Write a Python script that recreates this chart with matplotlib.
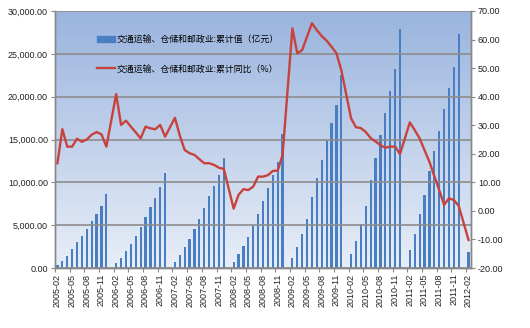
import numpy as np
import matplotlib.pyplot as plt
from matplotlib.patches import Patch
from matplotlib.lines import Line2D
from matplotlib.colors import LinearSegmentedColormap
from matplotlib.ticker import FuncFormatter, FixedLocator

# 累计值（亿元），每年 2-12 月（1 月无数据）
value_2005 = [350, 820, 1440, 2180, 3000, 3740, 4590, 5490, 6340, 7240, 8640]
value_2006 = [550, 1200, 1950, 2800, 3740, 4750, 5920, 7160, 8210, 9420, 11120]
value_2007 = [740, 1480, 2420, 3350, 4550, 5680, 7040, 8370, 9570, 10850, 12870]
value_2008 = [740, 1630, 2530, 3580, 4940, 6270, 7820, 9300, 10820, 12340, 15640]
value_2009 = [1200, 2490, 4000, 5750, 8250, 10470, 12600, 14820, 16890, 19020, 22520]
value_2010 = [1630, 3150, 5100, 7240, 10270, 12870, 15520, 18050, 20690, 23220, 27850]
value_2011 = [2100, 4000, 6270, 8520, 11280, 13650, 16020, 18550, 20970, 23490, 27270]
value_2012 = [1830]

# 累计同比（%）
yoy_2005 = [16.7, 28.6, 22.5, 22.5, 25.3, 24.2, 25.0, 26.7, 27.6, 26.8, 22.5]
yoy_2006 = [40.9, 30.1, 31.6, 29.5, 27.5, 25.4, 29.5, 28.9, 28.6, 30.1, 26.0]
yoy_2007 = [32.6, 26.4, 21.3, 20.2, 19.6, 18.1, 16.7, 16.7, 16.1, 15.1, 14.7]
yoy_2008 = [0.8, 5.6, 7.6, 7.3, 8.5, 12.0, 12.0, 12.5, 14.0, 14.1, 19.6]
yoy_2009 = [63.9, 55.2, 56.3, 61.0, 65.7, 63.3, 61.2, 59.6, 57.5, 55.2, 49.3]
yoy_2010 = [32.4, 29.3, 29.0, 27.6, 25.5, 24.3, 23.0, 22.1, 22.5, 22.5, 19.9]
yoy_2011 = [31.0, 28.3, 25.4, 21.3, 17.2, 12.2, 7.3, 2.1, 4.4, 3.8, 1.7]
yoy_2012 = [-10.2]

label_bar = "交通运输、仓储和邮政业:累计值（亿元）"
label_line = "交通运输、仓储和邮政业:累计同比（%）"

months = [f"{y}-{m:02d}" for y in range(2005, 2013) for m in range(1, 13)][1:86]


def join_years(parts):
    out = list(parts[0])
    for p in parts[1:]:
        out += [np.nan] + list(p)  # January gap
    return np.array(out, dtype=float)


values = join_years([value_2005, value_2006, value_2007, value_2008,
                     value_2009, value_2010, value_2011, value_2012])
yoy = join_years([yoy_2005, yoy_2006, yoy_2007, yoy_2008,
                  yoy_2009, yoy_2010, yoy_2011, yoy_2012])
x = np.arange(len(months))

fig = plt.figure(figsize=(5.3, 3.28), dpi=100)
fig.patch.set_facecolor("white")
ax = fig.add_axes([55 / 530, 1 - 268 / 328, 416 / 530, 257 / 328])
ax2 = ax.twinx()

# gradient background
cmap = LinearSegmentedColormap.from_list("bg", ["#e8eef8", "#9ab4de"])
ax.imshow(np.linspace(0, 1, 256).reshape(-1, 1), cmap=cmap, aspect="auto",
          origin="lower", extent=[0, 1, 0, 1], transform=ax.transAxes, zorder=0)

ok = ~np.isnan(values)
ax.bar(x[ok], values[ok], width=0.45, color="#4a7ec2", zorder=2)
ax.set_xlim(-0.5, len(months) - 0.5)
ax.set_ylim(0, 30000)
ax.set_yticks(np.arange(0, 30001, 5000))
ax.yaxis.set_major_formatter(FuncFormatter(lambda v, p: f"{v:,.2f}"))
ax.grid(axis="y", color="#8c8c8c", linewidth=1.2, zorder=1)
ax.set_axisbelow(False)
for gl in ax.get_ygridlines():
    gl.set_zorder(1)

ok2 = ~np.isnan(yoy)
ax2.plot(x[ok2], yoy[ok2], color="#c8423d", linewidth=1.7, zorder=3)
ax2.set_ylim(-20, 70)
ax2.set_yticks(np.arange(-20, 71, 10))
ax2.yaxis.set_major_formatter(FuncFormatter(lambda v, p: f"{v:.2f}"))

# x axis: tick marks between categories, labels every 3rd month
ax.xaxis.set_major_locator(FixedLocator(np.arange(0, len(months), 3) - 0.5))
ax.xaxis.set_minor_locator(FixedLocator(np.arange(0, len(months), 3)))
ax.set_xticklabels([], minor=False)
ax.set_xticklabels(months[::3], minor=True, rotation=90)
ax.tick_params(axis="x", which="major", length=3, color="#888888")
ax.tick_params(axis="x", which="minor", length=0, pad=4)

for lab in ax.get_xticklabels(minor=True) + ax.get_yticklabels() + ax2.get_yticklabels():
    lab.set_fontfamily("Liberation Sans")
    lab.set_fontsize(6.5)
    lab.set_color("#222222")
ax.tick_params(axis="y", length=3, pad=2, color="#888888")
ax2.tick_params(axis="y", length=3, pad=2, color="#888888")

for a in (ax, ax2):
    a.spines["top"].set_visible(False)
    for s in ("left", "right", "bottom"):
        a.spines[s].set_color("#888888")
        a.spines[s].set_linewidth(1.0)

handles = [Patch(color="#4a7ec2"), Line2D([], [], color="#c8423d", linewidth=1.7)]
ax2.legend(handles, [label_bar, label_line], loc="upper left",
           bbox_to_anchor=(42 / 416, (268 - 35) / 257), frameon=False,
           borderpad=0, borderaxespad=0, handlelength=2.0, handleheight=0.7,
           handletextpad=0.2, labelspacing=2.3,
           prop={"family": ["Noto Sans CJK SC", "DejaVu Sans"], "size": 6.4})

fig.savefig("out.png", dpi=100)
